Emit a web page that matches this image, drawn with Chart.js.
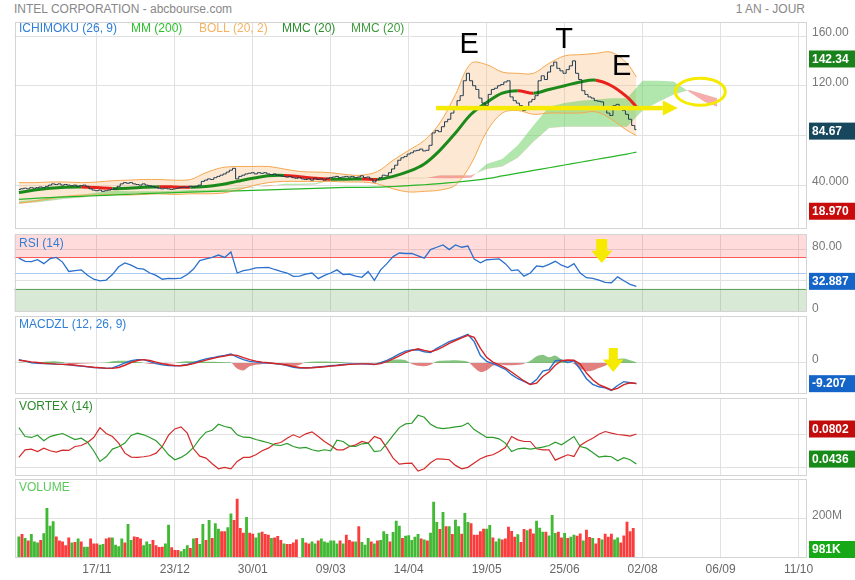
<!DOCTYPE html>
<html>
<head>
<meta charset="utf-8">
<script src="https://cdn.jsdelivr.net/npm/chart.js@4.4.1/dist/chart.umd.min.js"></script>
<style>
  body { margin: 0; background: #fff; width: 855px; height: 580px; overflow: hidden; position: relative;
         font-family: "Liberation Sans", Arial, sans-serif; }
  .hd { position: absolute; top: 2px; font-size: 12px; color: #888; }
  canvas { position: absolute; left: 0; }
</style>
</head>
<body>
<div class="hd" style="left:14px">INTEL CORPORATION - abcbourse.com</div>
<div class="hd" style="right:50px">1 AN - JOUR</div>
<canvas id="cMain" width="855" height="207" style="top:22px"></canvas>
<canvas id="cRsi" width="855" height="78" style="top:234px"></canvas>
<canvas id="cMacd" width="855" height="78" style="top:316px"></canvas>
<canvas id="cVtx" width="855" height="78" style="top:398px"></canvas>
<canvas id="cVol" width="855" height="101" style="top:479px"></canvas>
<script>
const FONT = '"Liberation Sans", Arial, sans-serif';
Chart.defaults.font.family = FONT;
Chart.defaults.font.size = 12;
Chart.defaults.color = '#666';

// x axis: one slot per trading day, labels every 25 slots
const tickDays = [25, 50, 75, 100, 125, 150, 175, 200, 225, 250];
const tickLabels = ['17/11', '23/12', '30/01', '09/03', '14/04', '19/05', '25/06', '02/08', '06/09', '11/10'];

// daily close (199 days)
const close = [
  36.5, 37, 37.5, 37, 38, 37.5, 38, 38.5, 38, 39,
  40, 41, 40.5, 41, 40, 40.5, 40, 39.5, 40, 39,
  39.5, 40, 39, 37, 36, 35.5, 36, 35, 35.5, 36,
  36.5, 37, 39, 41, 42, 41.5, 42, 41, 40.5, 40,
  41, 40, 39.5, 39, 38, 37.5, 37, 37.5, 37, 36.5,
  37, 37.5, 38, 38.5, 38, 39, 38.5, 39, 40, 43,
  44, 45, 44.5, 46, 47, 48, 49, 50.5, 52, 53.5,
  45, 47, 48, 49, 49.5, 50, 49, 50, 49.5, 50,
  49, 48.5, 49, 48, 47.5, 47, 46.5, 47, 46, 45.5,
  46, 45, 44.5, 45, 44, 45.5, 44.5, 45, 44, 45.5,
  46, 46.5, 47, 46, 46.5, 47, 46.5, 47, 46, 46.5,
  47.5, 46, 46.5, 45, 42.5, 44.5, 46, 48, 47.5, 50,
  53, 56, 60, 62, 63, 65, 66, 67.5, 68, 69,
  67.5, 68, 72, 82, 84, 83, 87, 91, 93, 98,
  103, 108, 112, 124, 130, 124, 120, 117, 110, 106,
  104, 113, 117, 118, 120, 121, 123, 124, 111, 108,
  106, 104, 100, 103, 107, 109, 112, 124, 128, 125,
  131, 136, 139, 134, 132, 130, 133, 136, 140, 130,
  125, 116, 113, 111, 110, 108, 107.5, 107, 101, 98,
  96, 104, 105, 103, 100, 97, 93, 88, 84.67
];

// daily volume in millions, and bar colour (g = up day, r = down day)
const volM = [
  107, 119, 99, 86, 119, 82, 77, 89, 123, 250,
  161, 183, 107, 86, 82, 62, 102, 77, 79, 96,
  81, 55, 55, 96, 72, 72, 65, 69, 96, 102,
  102, 65, 57, 96, 77, 170, 89, 107, 104, 96,
  62, 82, 69, 89, 62, 54, 55, 72, 166, 52,
  39, 39, 32, 44, 62, 49, 96, 99, 69, 170,
  89, 190, 99, 173, 146, 133, 133, 153, 223, 190,
  297, 149, 126, 205, 126, 121, 102, 126, 131, 119,
  116, 99, 102, 109, 89, 72, 69, 69, 76, 92,
  0, 99, 77, 72, 81, 72, 86, 97, 82, 76,
  86, 87, 72, 87, 72, 116, 89, 82, 82, 158,
  79, 65, 99, 82, 72, 86, 89, 133, 119, 82,
  129, 186, 161, 99, 111, 113, 89, 106, 119,
  96, 92, 87, 126, 282, 180, 144, 230, 158, 158,
  119, 191, 158, 121, 225, 180, 173, 116, 116, 133,
  146, 146, 165, 102, 82, 96, 92, 96, 156, 134,
  106, 118, 79, 144, 138, 146, 122, 186, 151, 131,
  131, 112, 215, 124, 131, 102, 124, 99, 106, 116,
  111, 122, 86, 141, 104, 99, 72, 99, 91, 121,
  106, 121, 91, 102, 77, 112, 181, 133, 149, 0.98
];
const volDir =
  'grgrgggrgg' + 'ggrrrrrgrg' + 'rggrrrggrr' + 'ggggrggrrr' + 'gggrrrrggr' +
  'rrgggrgrgg' + 'rgrggrrggr' + 'rrrgrrggrr' + 'rgrrrgrrrr' + 'ggrrggrggg' +
  'gggrgrrrgr' + 'gggrgrgggr' + 'gggrggggg' +
  'rgrgggrgrg' + 'rggrggrrrr' + 'rggrggrrrr' + 'rgrrgrrggg' + 'rgggrrgrgg' +
  'rrgrrgrrgr' + 'rrggrrrrrg';

// overlays sampled every 5 days (last point = day 198)
const bollUp = [42, 42, 42.5, 42.5, 42, 42.5, 43.5, 44, 44.5, 44.5,
  44, 44.5, 50, 54, 55, 55, 55, 53, 51, 50.5,
  50, 48.5, 48, 51, 60, 68, 76, 90, 113, 138,
  137, 131, 130, 130, 138, 144, 145, 146, 147, 138, 127];
const bollLo = [25.5, 27, 29, 31, 32, 32, 32.5, 32, 32.5, 33,
  32.5, 33, 33, 33.5, 36, 39.5, 42, 43, 43, 43,
  43, 42.5, 42.5, 41, 37, 34.5, 35, 36, 40, 57,
  83, 98, 100, 97, 98, 98, 98, 99, 93, 84, 80];
const mmc20 = [34, 36, 37.5, 38.3, 38.5, 38, 37.2, 37.4, 38.2, 38.7,
  38.5, 38.2, 38.8, 40.5, 43, 45.5, 47.5, 47.8, 46.8, 45.5,
  44.8, 44.8, 45, 44.5, 47, 51, 57, 68, 82, 97,
  106.5, 114, 116, 114, 117, 120, 123, 124.5, 120, 111, 103];
const mm200 = [28.5, 29.3, 30, 30.5, 31, 31.5, 32, 32.6, 33.1, 33.5,
  34, 34.4, 34.8, 35.1, 35.4, 35.8, 36.2, 36.6, 37, 37.4,
  37.8, 38.1, 38.2, 38.3, 38.9, 39.6, 40.3, 41.2, 42.3, 43.6,
  45.2, 47.4, 49.6, 51.8, 54, 56.2, 58.4, 60.6, 62.8, 65, 66.5];

// Ichimoku cloud, already shifted 26 days ahead, every 5 days up to day 224
const spanA = [27, 28, 30, 31, 32, 34, 35.5, 35, 35, 35,
  35.5, 36, 36, 36.5, 38, 38.5, 39, 41, 41, 41.5,
  45, 46, 46, 46, 46, 46, 46, 45.5, 45.5, 46,
  57, 61, 72, 88, 103, 106, 108, 109, 110, 110,
  124, 124, 123.5, 115, 107, 103];
const spanB = [25, 26, 27.5, 29, 30, 31.5, 32.5, 33, 33.5, 33.8,
  34, 34.5, 35, 35.5, 37, 38, 39.8, 40, 40, 40.5,
  44, 44.5, 44.5, 45, 45.5, 45.5, 45.5, 48, 48, 48,
  53, 55, 62, 75, 86, 87, 87, 87, 87, 87,
  100, 107, 113, 116.5, 113, 110];

// oscillators sampled every 2 days
const rsi = [69, 65, 64.5, 67, 62, 68.4, 70, 64, 52, 53,
  54, 47, 42, 40, 41, 48, 58, 63, 60, 56,
  55, 50, 47, 42, 43, 42.7, 43.5, 48, 55, 66,
  68, 70, 73, 70, 77, 50, 53, 54.3, 56.5, 57,
  57.3, 54.5, 52, 50, 45.7, 46, 48.5, 50, 42.7, 47,
  50, 54, 48, 48.5, 46, 44.5, 52, 40.5, 54, 62,
  71, 75.6, 75, 75, 72, 69, 80, 83, 86, 80,
  86, 83, 84.5, 68, 63, 67, 67.5, 68, 62, 53,
  54, 46, 50, 59, 58, 61, 65, 60, 57, 62,
  50, 44, 43, 41, 38, 37.5, 45, 40, 35.5, 32.887];
const macd = [1.5, 0.8, 0.1, -0.1, -0.3, -0.4, -0.5, -0.6, -0.8, -1.1,
  -1.4, -1.7, -2, -2.2, -2.4, -2.2, -1.2, 0, 1, 1.5,
  1.5, 0.6, -0.3, -0.8, -1.1, -1.2, -1.1, -0.6, 0.1, 1,
  1.8, 2.3, 2.9, 3.4, 4, 2.6, 1.5, 0.7, 0.4, 0.1,
  0, -0.3, -0.6, -1.2, -1.9, -2.2, -2.1, -2, -1.8, -1.5,
  -1.2, -1, -0.7, -0.4, -0.4, -0.4, -0.5, -0.7, 0.1, 1.2,
  2.5, 4, 5.3, 5.8, 5.9, 5, 4.6, 6.5, 8, 9.5,
  10.5, 11.6, 12.7, 9.5, 3.3, 0.7, -0.3, -1.5, -2.8, -5.2,
  -7, -8.2, -9.5, -7.4, -3.6, -3, 1, 1.2, 0.2, 1,
  -2.8, -7, -9.5, -10.6, -11.1, -12.2, -10, -8.3, -8.8, -9.207];
const signal = [1.2, 0.9, 0.5, 0.2, -0.1, -0.3, -0.5, -0.6, -0.7, -1,
  -1.3, -1.6, -1.9, -2.1, -2.3, -2.4, -2, -1, 0.2, 1.1,
  1.5, 1.1, 0.4, -0.3, -0.8, -1.1, -1.2, -0.9, -0.3, 0.5,
  1.3, 2, 2.6, 3.1, 3.6, 3.4, 2.4, 1.5, 0.8, 0.4,
  0.1, -0.2, -0.5, -0.9, -1.5, -2, -2.2, -2.1, -1.9, -1.7,
  -1.4, -1.1, -0.9, -0.6, -0.5, -0.4, -0.4, -0.6, -0.3, 0.6,
  1.8, 3.2, 4.6, 5.6, 6.3, 5.6, 5, 5.8, 7.2, 8.7,
  10, 11.2, 12.3, 11.4, 6.5, 2.5, 0.4, -0.8, -2.2, -4,
  -6, -8, -9.6, -9, -6, -4, -1, 1, 1.3, 1.2,
  -0.5, -4.5, -7.5, -9.6, -10.8, -12, -11.3, -9.6, -8.8, -9.1];
const hist = [0.2, 0, 0, 0.3, 0.6, 0.7, 0.7, 0.4, -0.4, -0.5,
  -0.3, -0.2, -0.1, 0, 0.2, 0.8, 1, 1, 0.9, 0.5,
  0, -0.4, -0.5, -0.4, -0.2, 0, 0.5, 0.8, 0.8, 0.7,
  0.6, 0.5, 0.4, 0.3, 0.2, -2.5, -3.3, -1.5, -0.8, -0.4,
  -0.2, -0.3, -0.6, -1.2, -1.5, -0.8, 0.3, 0.6, 0.7, 0.7,
  0.6, 0.5, 0.3, 0.1, 0, 0, -0.2, -0.2, 0.4, 1,
  1.4, 1.5, 1.2, -0.4, -1.2, -1.4, -0.8, 0.8, 1, 1.1,
  1.2, 1, 0.6, -2, -4, -3.2, -1.2, -0.8, -1, -1,
  -0.8, -0.3, 1, 3, 3.7, 2.5, 3.3, 1.5, 0.8, -0.5,
  -2.5, -3.7, -3.3, -2.2, -1.2, 0.5, 1.8, 2, 1.2, 0.3];
const viPlus = [0.088, 0.0771, 0.076, 0.0787, 0.072, 0.0771, 0.0792, 0.0808, 0.0771, 0.0735,
  0.0751, 0.0703, 0.0598, 0.0468, 0.0525, 0.0618, 0.0646, 0.0691, 0.0784, 0.0812,
  0.0792, 0.076, 0.072, 0.0642, 0.0549, 0.0489, 0.0517, 0.0565, 0.0638, 0.0743,
  0.0824, 0.0848, 0.0921, 0.0893, 0.0876, 0.0792, 0.0763, 0.076, 0.0735, 0.0715,
  0.0695, 0.067, 0.0662, 0.0687, 0.065, 0.063, 0.0638, 0.061, 0.0594, 0.061,
  0.0598, 0.0727, 0.0711, 0.0654, 0.065, 0.0683, 0.0691, 0.0589, 0.0598, 0.0687,
  0.0784, 0.088, 0.0925, 0.0933, 0.103, 0.1006, 0.0921, 0.088, 0.0868, 0.0876,
  0.0888, 0.0897, 0.0937, 0.0856, 0.0808, 0.076, 0.076, 0.0743, 0.0691, 0.0589,
  0.0622, 0.063, 0.0618, 0.063, 0.0642, 0.0662, 0.0703, 0.067, 0.072, 0.0771,
  0.065, 0.063, 0.0577, 0.0521, 0.0533, 0.0525, 0.0476, 0.0513, 0.0489, 0.0436];
const viMinus = [0.0517, 0.061, 0.0618, 0.0589, 0.063, 0.0598, 0.0581, 0.0606, 0.0602, 0.065,
  0.0662, 0.0699, 0.0759, 0.088, 0.0808, 0.0771, 0.0691, 0.0569, 0.0521, 0.0517,
  0.0525, 0.0537, 0.0569, 0.065, 0.0788, 0.0864, 0.0888, 0.0812, 0.0622, 0.0533,
  0.0509, 0.044, 0.0379, 0.0396, 0.0379, 0.0468, 0.0517, 0.0517, 0.0549, 0.0598,
  0.063, 0.0683, 0.0699, 0.0751, 0.0792, 0.076, 0.0804, 0.0828, 0.0771, 0.0711,
  0.0662, 0.061, 0.061, 0.065, 0.067, 0.0711, 0.0691, 0.0771, 0.0743, 0.063,
  0.0509, 0.0436, 0.0444, 0.0448, 0.0351, 0.0379, 0.0452, 0.05, 0.0497, 0.0489,
  0.042, 0.0379, 0.0396, 0.0448, 0.05, 0.0533, 0.0549, 0.0589, 0.0638, 0.0771,
  0.0731, 0.0711, 0.0711, 0.0622, 0.061, 0.061, 0.0484, 0.0517, 0.0549, 0.0529,
  0.0662, 0.0711, 0.0751, 0.08, 0.0832, 0.0812, 0.0796, 0.0788, 0.0776, 0.0802];

const YEL = '#f6ea00';
const pts = (arr, step, last) => arr.map((v, i) => ({ x: Math.min(i * step, last), y: v }));

function xAxis(show) {
  return {
    type: 'linear', min: -1.4, max: 252.4, offset: false,
    afterBuildTicks: ax => { ax.ticks = tickDays.map(v => ({ value: v })); },
    afterFit: ax => { ax.height = show ? 22 : 0; ax.paddingLeft = 0; ax.paddingRight = 0; },
    grid: { color: '#e1e1e1', drawTicks: false, offset: false },
    border: { display: false },
    ticks: { display: show, autoSkip: false, maxRotation: 0, padding: 4, color: '#666',
             callback: v => tickLabels[tickDays.indexOf(v)] }
  };
}

function yAxis(min, max, ticks, fmt) {
  return {
    position: 'right', min, max,
    afterBuildTicks: ax => { ax.ticks = ticks.map(v => ({ value: v })); },
    afterFit: ax => { ax.width = 49; ax.paddingTop = 0; ax.paddingBottom = 0; },
    grid: { color: '#e1e1e1', drawTicks: false },
    border: { display: false },
    ticks: { padding: 6, color: '#777', labelOffset: -3, callback: fmt }
  };
}

function drawMark(ctx, m, x, y) {
  ctx.fillStyle = m.color || YEL;
  ctx.strokeStyle = m.color || YEL;
  if (m.type === 'down') {
    const cx = x.getPixelForValue(m.d);
    const a = y.getPixelForValue(m.top), b = y.getPixelForValue(m.neck), c = y.getPixelForValue(m.tip);
    ctx.beginPath();
    ctx.moveTo(cx - m.shaft, a); ctx.lineTo(cx + m.shaft, a); ctx.lineTo(cx + m.shaft, b);
    ctx.lineTo(cx + m.head, b); ctx.lineTo(cx, c); ctx.lineTo(cx - m.head, b); ctx.lineTo(cx - m.shaft, b);
    ctx.closePath(); ctx.fill();
  } else if (m.type === 'right') {
    const a = x.getPixelForValue(m.d0), b = x.getPixelForValue(m.d1), cy = y.getPixelForValue(m.v);
    ctx.fillRect(a, cy - m.thick / 2, b - a - m.headLen, m.thick);
    ctx.beginPath();
    ctx.moveTo(b - m.headLen, cy - m.headHalf); ctx.lineTo(b, cy); ctx.lineTo(b - m.headLen, cy + m.headHalf);
    ctx.closePath(); ctx.fill();
  } else if (m.type === 'ellipse') {
    ctx.lineWidth = 3;
    ctx.beginPath();
    ctx.ellipse(x.getPixelForValue(m.d), y.getPixelForValue(m.v), m.rx, m.ry, 0, 0, Math.PI * 2);
    ctx.stroke();
  } else if (m.type === 'text') {
    ctx.font = '29px ' + FONT;
    ctx.textAlign = 'center';
    ctx.textBaseline = 'alphabetic';
    ctx.fillText(m.text, x.getPixelForValue(m.d), y.getPixelForValue(m.v));
  }
}

// per-panel decorations: zone bands, level lines, titles, value tags, hand-drawn marks
function panel(deco) {
  return {
    id: 'panel',
    beforeDatasetsDraw(chart) {
      const { ctx, chartArea: a, scales: { y } } = chart;
      ctx.save();
      (deco.bands || []).forEach(b => {
        const t = y.getPixelForValue(b.to), f = y.getPixelForValue(b.from);
        ctx.fillStyle = b.color;
        ctx.fillRect(a.left, t, a.right - a.left, f - t);
      });
      (deco.levels || []).forEach(l => {
        const p = Math.round(y.getPixelForValue(l.v)) + 0.5;
        ctx.strokeStyle = l.color; ctx.lineWidth = 1;
        ctx.beginPath(); ctx.moveTo(a.left, p); ctx.lineTo(a.right, p); ctx.stroke();
      });
      ctx.restore();
    },
    afterDatasetsDraw(chart) {
      const { ctx, scales: { x, y } } = chart;
      ctx.save();
      (deco.marks || []).forEach(m => drawMark(ctx, m, x, y));
      ctx.restore();
    },
    afterDraw(chart) {
      const { ctx, chartArea: a, scales: { y } } = chart;
      ctx.save();
      ctx.strokeStyle = '#d4d4d4'; ctx.lineWidth = 1;
      ctx.strokeRect(Math.round(a.left) + 0.5, Math.round(a.top) + 0.5,
                     Math.round(a.right - a.left) - 1, Math.round(a.bottom - a.top) - 1);
      ctx.textBaseline = 'middle';
      ctx.textAlign = 'left';
      ctx.font = '12px ' + FONT;
      (deco.titles || []).forEach(t => {
        ctx.fillStyle = t.color;
        ctx.fillText(t.text, a.left + t.dx, a.top + t.dy);
      });
      (deco.tags || []).forEach(t => {
        const c = y.getPixelForValue(t.v) + (t.dy || 0);
        const top = Math.max(a.top, Math.min(a.bottom - 17, c - 8.5));
        ctx.fillStyle = t.bg;
        ctx.fillRect(a.right + 3, top, chart.width - a.right - 3, 17);
        ctx.fillStyle = '#fff';
        ctx.font = 'bold 12px ' + FONT;
        ctx.fillText(t.text, a.right + 6, top + 9);
      });
      ctx.restore();
    }
  };
}

function makeChart(id, type, datasets, y, showX, deco) {
  return new Chart(document.getElementById(id), {
    type,
    data: { datasets },
    options: {
      responsive: false, animation: false, events: [],
      layout: { padding: { left: 14.5, right: 0, top: 0, bottom: 0 } },
      plugins: { legend: { display: false }, tooltip: { enabled: false },
                 filler: { drawTime: 'beforeDatasetsDraw' } },
      elements: { point: { radius: 0 } },
      scales: { x: xAxis(showX), y }
    },
    plugins: [panel(deco)]
  });
}

const NONE = 'rgba(0,0,0,0)';

// price panel
makeChart('cMain', 'line', [
  { data: pts(close, 1, 198), borderColor: '#1f3a4d', borderWidth: 1, stepped: 'middle', order: 0 },
  { data: pts(mmc20, 5, 198), borderColor: '#1b8a1b', borderWidth: 3, tension: 0.35, order: 1,
    segment: { borderColor: c => c.p1.parsed.y < c.p0.parsed.y ? '#e8211b' : '#1b8a1b' } },
  { data: pts(mm200, 5, 198), borderColor: '#26b526', borderWidth: 1.2, tension: 0.3, order: 2 },
  { data: pts(bollUp, 5, 198), borderColor: '#f5a74f', borderWidth: 1, tension: 0.35, order: 5,
    fill: '+1', backgroundColor: 'rgba(248,190,130,0.35)' },
  { data: pts(bollLo, 5, 198), borderColor: '#f5a74f', borderWidth: 1, tension: 0.35, order: 5 },
  { data: pts(spanA, 5, 224), borderColor: NONE, borderWidth: 0, order: 4,
    fill: { target: '+1', above: 'rgba(100,205,90,0.5)', below: 'rgba(240,90,90,0.5)' } },
  { data: pts(spanB, 5, 224), borderColor: NONE, borderWidth: 0, order: 4 }
], yAxis(4.67, 171.3, [40, 80, 120, 160], v => v.toPrecision(5)), false, {
  titles: [
    { text: 'ICHIMOKU (26, 9)', color: '#2f7fd6', dx: 4.5, dy: 7 },
    { text: 'MM (200)', color: '#2cc02c', dx: 116.5, dy: 7 },
    { text: 'BOLL (20, 2)', color: '#f6b260', dx: 184.5, dy: 7 },
    { text: 'MMC (20)', color: '#2b8f2b', dx: 267.5, dy: 7 },
    { text: 'MMC (20)', color: '#3c9c3c', dx: 336.5, dy: 7 }
  ],
  tags: [
    { v: 142.34, text: '142.34', bg: '#1a821a', dy: 1 },
    { v: 84.67, text: '84.67', bg: '#17475d', dy: 1.5 },
    { v: 18.97, text: '18.970', bg: '#c80c0c' }
  ],
  marks: [
    { type: 'right', d0: 133.8, d1: 211.3, v: 102, thick: 4.5, headLen: 15, headHalf: 7.5 },
    { type: 'ellipse', d: 218.5, v: 115.2, rx: 25, ry: 13.5 },
    { type: 'text', d: 144.4, v: 146.3, text: 'E', color: '#000' },
    { type: 'text', d: 174.8, v: 150.3, text: 'T', color: '#000' },
    { type: 'text', d: 193.3, v: 128.6, text: 'E', color: '#000' }
  ]
});

// RSI (the 40 level keeps its grid line; its label sits under the value tag)
makeChart('cRsi', 'line', [
  { data: pts(rsi, 2, 198), borderColor: '#2a70cc', borderWidth: 1.3 }
], yAxis(0, 100, [0, 40, 80], v => v === 0 ? '0' : v === 40 ? '' : v.toFixed(2)), false, {
  bands: [
    { from: 70, to: 100, color: 'rgba(255,40,40,0.17)' },
    { from: 0, to: 30, color: 'rgba(60,150,50,0.2)' }
  ],
  levels: [
    { v: 70, color: '#ff5b5b' },
    { v: 50, color: '#a9c9ef' },
    { v: 30, color: '#64a064' }
  ],
  titles: [{ text: 'RSI (14)', color: '#2f7fd6', dx: 4.5, dy: 10 }],
  tags: [{ v: 32.887, text: '32.887', bg: '#1565c8', dy: -5 }],
  marks: [{ type: 'down', d: 186.9, top: 93.6, neck: 78.6, tip: 62.8, shaft: 5.5, head: 10.5 }]
});

// MACD
makeChart('cMacd', 'line', [
  { data: pts(macd, 2, 198), borderColor: '#2a70cc', borderWidth: 1.4, order: 1 },
  { data: pts(signal, 2, 198), borderColor: '#d42424', borderWidth: 1.4, order: 0 },
  { data: pts(hist, 2, 198), borderColor: NONE, borderWidth: 0, tension: 0.3, order: 2,
    fill: { target: 'origin', above: 'rgba(60,160,50,0.62)', below: 'rgba(210,60,60,0.65)' } }
], yAxis(-13.8, 20.9, [0], () => '0'), false, {
  titles: [{ text: 'MACDZL (12, 26, 9)', color: '#2f7fd6', dx: 4.5, dy: 9 }],
  tags: [{ v: -9.207, text: '-9.207', bg: '#1565c8' }],
  marks: [{ type: 'down', d: 190.6, top: 6.7, neck: 1.5, tip: -4, shaft: 4.5, head: 10.3 }]
});

// Vortex
makeChart('cVtx', 'line', [
  { data: pts(viPlus, 2, 198), borderColor: '#2c9c2c', borderWidth: 1.2 },
  { data: pts(viMinus, 2, 198), borderColor: '#d42a2a', borderWidth: 1.2 }
], yAxis(0.0291, 0.124, [0.04, 0.08], v => v.toFixed(4)), false, {
  titles: [{ text: 'VORTEX (14)', color: '#2c8c2c', dx: 4.5, dy: 9 }],
  tags: [
    { v: 0.0802, text: '0.0802', bg: '#c20c0c', dy: -5 },
    { v: 0.0436, text: '0.0436', bg: '#178a17', dy: -5 }
  ]
});

// Volume
makeChart('cVol', 'bar', [
  { data: volM.map((v, i) => ({ x: i, y: v })), barThickness: 2.2,
    backgroundColor: volM.map((_, i) => volDir[i] === 'g' ? '#42b934' : '#fb3c3c') }
], yAxis(0, 398, [200], v => v + 'M'), true, {
  titles: [{ text: 'VOLUME', color: '#5cc85c', dx: 4.5, dy: 9 }],
  tags: [{ v: 0.98, text: '981K', bg: '#16a816' }]
});
</script>
</body>
</html>
